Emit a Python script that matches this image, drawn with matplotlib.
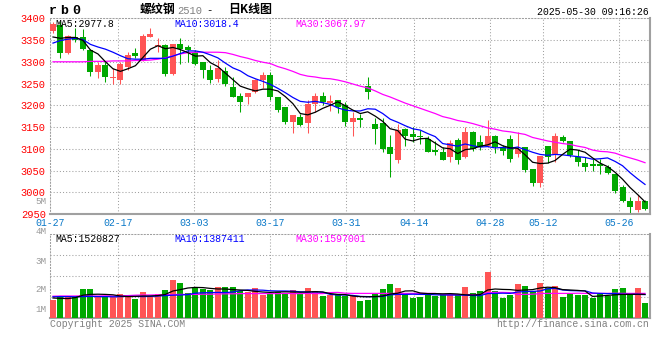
import numpy as np
import matplotlib
matplotlib.use("Agg")
import matplotlib.pyplot as plt

plt.rcParams['font.family'] = ['Liberation Mono', 'DejaVu Sans Mono']

# rb0 日K线, 2025-01-27 .. 2025-05-30 (80 trading days)
opens = [3371, 3385, 3321, 3357, 3357, 3328, 3276, 3293, 3262, 3258,
         3287, 3321, 3303, 3357, 3336, 3339, 3271, 3340, 3334, 3323,
         3300, 3281, 3260, 3279, 3243, 3222, 3218, 3230, 3258, 3270,
         3218, 3197, 3162, 3174, 3160, 3204, 3222, 3206, 3212, 3201,
         3161, 3171, 3244, 3157, 3160, 3104, 3075, 3146, 3133, 3129,
         3122, 3098, 3093, 3080, 3120, 3080, 3139, 3116, 3106, 3129,
         3103, 3123, 3089, 3103, 3054, 3022, 3106, 3087, 3127, 3119,
         3080, 3068, 3064, 3064, 3059, 3042, 3011, 2981, 2959, 2980]
highs = [3392, 3394, 3362, 3377, 3375, 3330, 3300, 3300, 3285, 3300,
         3322, 3331, 3365, 3377, 3354, 3340, 3342, 3354, 3339, 3327,
         3300, 3293, 3303, 3287, 3266, 3228, 3229, 3260, 3277, 3276,
         3218, 3197, 3178, 3180, 3212, 3228, 3230, 3224, 3213, 3207,
         3184, 3179, 3266, 3171, 3170, 3132, 3157, 3147, 3150, 3143,
         3130, 3118, 3103, 3120, 3124, 3149, 3141, 3132, 3166, 3132,
         3109, 3132, 3138, 3103, 3054, 3084, 3106, 3136, 3132, 3119,
         3097, 3082, 3077, 3077, 3063, 3042, 3017, 2988, 2994, 2982]
lows = [3366, 3308, 3317, 3345, 3328, 3268, 3262, 3254, 3250, 3248,
        3281, 3308, 3301, 3356, 3323, 3268, 3269, 3296, 3300, 3292,
        3262, 3251, 3254, 3245, 3219, 3185, 3202, 3228, 3240, 3211,
        3185, 3156, 3136, 3152, 3137, 3185, 3201, 3187, 3182, 3153,
        3130, 3151, 3214, 3112, 3093, 3034, 3067, 3106, 3116, 3112,
        3092, 3086, 3074, 3070, 3065, 3079, 3095, 3097, 3105, 3091,
        3086, 3070, 3080, 3047, 3015, 3013, 3067, 3069, 3116, 3080,
        3060, 3050, 3049, 3041, 3043, 2998, 2978, 2949, 2954, 2959]
closes = [3386, 3321, 3360, 3350, 3330, 3276, 3293, 3266, 3264, 3294,
          3316, 3314, 3359, 3364, 3338, 3271, 3340, 3329, 3327, 3295,
          3281, 3258, 3285, 3250, 3220, 3208, 3229, 3258, 3270, 3218,
          3190, 3162, 3178, 3155, 3204, 3222, 3207, 3210, 3197, 3161,
          3170, 3166, 3231, 3146, 3100, 3089, 3143, 3130, 3126, 3126,
          3093, 3092, 3074, 3113, 3074, 3139, 3100, 3105, 3129, 3105,
          3096, 3077, 3099, 3051, 3022, 3083, 3080, 3130, 3118, 3086,
          3069, 3059, 3061, 3061, 3045, 3004, 2980, 2965, 2981, 2962]

# moving averages as drawn on the chart
ma5 = [3357, 3354, 3356, 3356, 3349, 3327, 3318, 3300, 3284, 3278,
       3284, 3291, 3310, 3329, 3337, 3330, 3333, 3328, 3321, 3313,
       3314, 3298, 3289, 3274, 3259, 3244, 3238, 3233, 3237, 3237,
       3233, 3220, 3204, 3181, 3178, 3184, 3193, 3200, 3208, 3199,
       3189, 3181, 3185, 3175, 3163, 3146, 3142, 3122, 3118, 3123,
       3124, 3113, 3102, 3100, 3089, 3098, 3100, 3106, 3109, 3116,
       3107, 3102, 3101, 3086, 3069, 3066, 3067, 3073, 3087, 3099,
       3097, 3092, 3079, 3067, 3059, 3046, 3030, 3011, 2995, 2978]
ma10 = [3343, 3349, 3352, 3354, 3351, 3340, 3334, 3329, 3322, 3314,
        3307, 3306, 3306, 3308, 3308, 3308, 3313, 3319, 3325, 3325,
        3322, 3316, 3309, 3297, 3286, 3279, 3268, 3261, 3255, 3248,
        3239, 3229, 3218, 3209, 3207, 3209, 3206, 3202, 3194, 3189,
        3187, 3187, 3192, 3191, 3181, 3168, 3161, 3153, 3146, 3143,
        3135, 3128, 3112, 3109, 3106, 3111, 3107, 3104, 3105, 3102,
        3103, 3101, 3104, 3098, 3092, 3087, 3085, 3087, 3086, 3084,
        3082, 3080, 3076, 3077, 3079, 3071, 3061, 3045, 3031, 3018]
ma30 = [3300, 3300, 3300, 3300, 3300, 3301, 3301, 3301, 3302, 3302,
        3302, 3303, 3303, 3304, 3306, 3309, 3314, 3318, 3321, 3322,
        3322, 3322, 3322, 3321, 3317, 3312, 3308, 3303, 3299, 3296,
        3289, 3284, 3278, 3271, 3267, 3265, 3262, 3261, 3258, 3254,
        3249, 3244, 3240, 3233, 3225, 3219, 3212, 3205, 3199, 3193,
        3187, 3181, 3174, 3170, 3165, 3162, 3158, 3153, 3148, 3145,
        3141, 3139, 3136, 3133, 3126, 3122, 3118, 3115, 3112, 3110,
        3106, 3103, 3097, 3094, 3093, 3090, 3084, 3079, 3074, 3068]

# volume (millions)
volume = [1.50, 1.67, 1.63, 1.63, 2.05, 2.05, 1.67, 1.67, 1.67, 1.78,
          1.67, 1.55, 1.90, 1.67, 1.78, 2.00, 2.50, 2.35, 1.83, 2.12,
          2.03, 2.00, 2.15, 2.15, 2.15, 1.95, 1.90, 2.10, 1.75, 1.83,
          1.90, 1.87, 2.00, 1.83, 2.10, 1.95, 1.72, 1.75, 1.80, 1.72,
          1.72, 1.47, 1.52, 1.80, 2.05, 2.30, 2.10, 1.80, 1.60, 1.67,
          1.80, 1.72, 1.78, 1.75, 1.75, 2.15, 1.85, 1.95, 2.92, 1.95,
          1.60, 1.75, 2.30, 2.20, 1.95, 2.35, 2.10, 2.20, 1.65, 1.80,
          1.75, 1.75, 1.62, 1.80, 1.70, 2.05, 2.10, 1.75, 2.10, 1.35]
vma5 = [1.60, 1.58, 1.57, 1.62, 1.74, 1.78, 1.79, 1.78, 1.76, 1.70,
        1.67, 1.68, 1.70, 1.70, 1.72, 1.78, 1.95, 2.02, 2.10, 2.13,
        2.12, 2.08, 2.05, 2.05, 2.02, 2.00, 1.98, 1.93, 1.90, 1.88,
        1.90, 1.91, 1.90, 1.89, 1.90, 1.92, 1.90, 1.82, 1.78, 1.77,
        1.70, 1.67, 1.66, 1.67, 1.70, 1.80, 1.84, 1.95, 1.96, 1.85,
        1.82, 1.82, 1.81, 1.82, 1.80, 1.76, 1.75, 1.77, 2.00, 2.05,
        2.03, 2.02, 1.98, 2.00, 2.02, 2.10, 2.14, 2.12, 2.02, 2.00,
        1.98, 1.95, 1.68, 1.70, 1.73, 1.76, 1.78, 1.78, 1.79, 1.78]
vma10 = [1.66, 1.67, 1.67, 1.66, 1.67, 1.68, 1.67, 1.67, 1.66, 1.67,
         1.68, 1.68, 1.67, 1.68, 1.70, 1.72, 1.74, 1.75, 1.77, 1.84,
         1.86, 1.87, 1.88, 1.87, 1.90, 1.97, 2.00, 2.00, 1.99, 1.96,
         1.95, 1.95, 1.94, 1.91, 1.90, 1.90, 1.89, 1.78, 1.75, 1.75,
         1.73, 1.68, 1.67, 1.67, 1.68, 1.76, 1.78, 1.78, 1.79, 1.78,
         1.78, 1.76, 1.75, 1.75, 1.75, 1.74, 1.72, 1.72, 1.82, 1.83,
         1.84, 1.83, 1.90, 1.92, 1.93, 1.95, 2.06, 2.08, 2.00, 1.97,
         1.96, 1.96, 1.85, 1.83, 1.82, 1.82, 1.79, 1.78, 1.78, 1.77]
vma30 = [1.69, 1.70, 1.70, 1.70, 1.71, 1.70, 1.70, 1.71, 1.70, 1.71,
         1.72, 1.74, 1.75, 1.75, 1.76, 1.76, 1.77, 1.78, 1.78, 1.78,
         1.79, 1.79, 1.80, 1.81, 1.81, 1.82, 1.82, 1.82, 1.82, 1.82,
         1.82, 1.83, 1.82, 1.82, 1.83, 1.82, 1.82, 1.87, 1.88, 1.84,
         1.83, 1.83, 1.83, 1.83, 1.83, 1.83, 1.83, 1.83, 1.83, 1.83,
         1.83, 1.83, 1.77, 1.77, 1.76, 1.77, 1.77, 1.78, 1.87, 1.88,
         1.88, 1.87, 1.78, 1.78, 1.79, 1.82, 1.83, 1.83, 1.83, 1.83,
         1.84, 1.83, 1.83, 1.83, 1.83, 1.84, 1.83, 1.83, 1.83, 1.83]

date_idx = [0, 9, 19, 29, 39, 48, 58, 65, 75]
date_lbl = ['01-27', '02-17', '03-03', '03-17', '03-31', '04-14', '04-28', '05-12', '05-26']

W, H = 660, 360
def fx(px): return px / W
def fy(py): return 1 - py / H

RED = '#ff5555'
GREEN = '#00a800'
GRID = '#a0a0a0'
DOT = (0, (1, 2))

fig = plt.figure(figsize=(6.6, 3.6), dpi=100)
ax = fig.add_axes([fx(50), fy(214), (649.5 - 50) / W, (214 - 18.3) / H])
axv = fig.add_axes([fx(50), fy(318.3), (649.5 - 50) / W, (318.3 - 234.3) / H])

n = len(closes)
x = np.arange(n) + 0.4
o = np.array(opens)
c = np.array(closes)
col = np.where(c >= o, RED, GREEN)

# candles
ax.vlines(x, lows, highs, colors=col, lw=0.75, zorder=2)
ax.bar(x, np.maximum(np.abs(c - o), 2.3), bottom=np.minimum(o, c), width=0.8,
       color=col, lw=0, zorder=3, antialiased=False)
ax.plot(x, ma30, color='#ff00ff', lw=0.9, zorder=4)
ax.plot(x, ma10, color='#0000ff', lw=0.9, zorder=4)
ax.plot(x, ma5, color='black', lw=0.9, zorder=5)

# volume
axv.bar(x, volume, width=0.8, color=col, lw=0, zorder=3, antialiased=False)
axv.plot(x, vma30, color='#ff00ff', lw=0.9, zorder=4)
axv.plot(x, vma10, color='#0000ff', lw=0.9, zorder=4)
axv.plot(x, vma5, color='black', lw=0.9, zorder=5)

gx = np.array(date_idx) * n / (n - 1)
for a in (ax, axv):
    a.set_xlim(0, n)
    a.set_xticks(gx)
    a.grid(True, color=GRID, ls=DOT, lw=0.75)
    a.set_axisbelow(True)
    a.tick_params(length=0)
    for s in ('top', 'left'):
        a.spines[s].set(linestyle=DOT, color=GRID, lw=0.75)
    for s in ('bottom', 'right'):
        a.spines[s].set(color=GRID, lw=1.5)

ax.set_ylim(2950, 3400)
ax.set_yticks(np.arange(2950, 3401, 50))
ax.set_xticklabels(date_lbl)
ax.tick_params(axis='y', pad=3, labelsize=7.5, labelcolor='red')
ax.tick_params(axis='x', pad=2.8, labelsize=7.1, labelcolor='#0a78c8')

axv.set_ylim(0.585, 4.785)
axv.set_yticks([1.635, 2.685, 3.735])
axv.set_yticklabels([])
axv.set_xticklabels([])

# volume axis labels (as placed by the original chart)
for lbl, py in [('5M', 201.5), ('4M', 232), ('3M', 261), ('2M', 290), ('1M', 310)]:
    fig.text(fx(46.5), fy(py), lbl, color='#999999', fontsize=6.6, ha='right', va='center')

# header
for ch, px in [('r', 49), ('b', 60), ('0', 72)]:
    fig.text(fx(px), fy(11), ch, fontsize=9.5, weight='bold', va='center')
cjk = ['Noto Sans CJK SC', 'DejaVu Sans']
fig.text(fx(140), fy(9.5), '螺纹钢', family=cjk, weight='bold', fontsize=8.6, va='center')
fig.text(fx(177.5), fy(10.5), '2510', color='#808080', fontsize=7.6, va='center')
fig.text(fx(206), fy(10.5), '-', fontsize=7.6, va='center')
fig.text(fx(228), fy(9.5), '日K线图', family=cjk, weight='bold', fontsize=8.6, va='center')
fig.text(fx(648.5), fy(12), '2025-05-30 09:16:26', fontsize=7.1, ha='right', va='center')

for txt, px, colr in [('MA5:2977.8', 55, 'black'), ('MA10:3018.4', 174, '#0000ff'),
                      ('MA30:3067.97', 295, '#ff00ff')]:
    fig.text(fx(px), fy(24), txt, color=colr, fontsize=7.1, va='center', zorder=10)
for txt, px, colr in [('MA5:1520827', 55, 'black'), ('MA10:1387411', 174, '#0000ff'),
                      ('MA30:1597001', 295, '#ff00ff')]:
    fig.text(fx(px), fy(238.5), txt, color=colr, fontsize=7.1, va='center', zorder=10)

fig.text(fx(50), fy(324), 'Copyright 2025 SINA.COM', color='#808080', fontsize=7.1, va='center')
fig.text(fx(649), fy(324), 'http://finance.sina.com.cn', color='#808080', fontsize=7.1,
         ha='right', va='center')

fig.savefig('out.png', dpi=100, facecolor='white')
